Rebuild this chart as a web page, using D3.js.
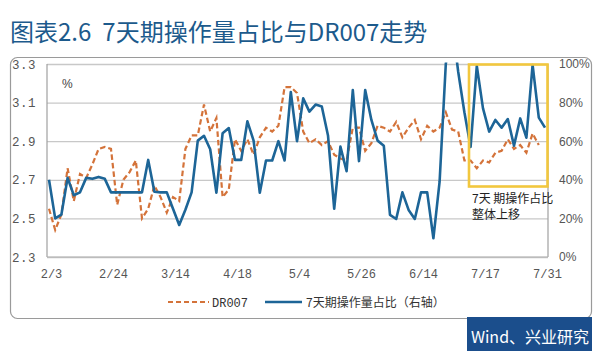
<!DOCTYPE html>
<html><head><meta charset="utf-8">
<script src="https://cdn.jsdelivr.net/npm/d3@7"></script>
<style>
html,body{margin:0;padding:0;background:#fff;}
svg{display:block;}
</style></head>
<body>
<svg id="chart" width="600" height="351"></svg>
<script>
// ---- data ----
const titleParts = ["图表2.6", "7天期操作量占比与DR007走势"];
const tickLabels = ["2/3","2/24","3/14","4/18","5/4","5/26","6/14","7/17","7/31"];
const tickIndex = [0,10,20,30,40,50,60,70,80];
const leftTicks = [2.3,2.5,2.7,2.9,3.1,3.3];
const rightTicks = [0,20,40,60,80,100];
// DR007 (%), left axis
const dr007 = [2.55,2.44,2.52,2.76,2.59,2.73,2.71,2.78,2.86,2.87,
  2.86,2.57,2.70,2.74,2.80,2.50,2.55,2.67,2.61,2.53,
  2.61,2.59,2.86,2.93,2.93,3.09,2.95,3.02,2.61,2.65,
  2.91,2.85,2.91,2.83,2.92,2.97,2.95,2.98,3.18,3.18,
  3.15,2.95,2.89,2.91,2.88,2.90,2.83,2.81,2.80,2.97,
  2.97,2.85,2.89,2.98,2.97,2.95,3.00,2.92,2.97,3.01,
  2.91,2.98,2.95,2.97,3.05,2.96,2.95,2.80,2.80,2.76,
  2.80,2.79,2.84,2.85,2.91,2.86,2.88,2.84,2.94,2.88];
// 7-day operation share (%), right axis
const share7d = [40,20,22,41,32,33.5,41,40.5,41.5,40.5,
  33.5,33.5,33.5,33.5,33.5,33.5,50.3,33.8,33.5,33.5,
  25,16.6,24.5,33.5,60.3,62.8,55.8,33.3,64.1,66.8,
  50.3,50.3,70.3,60.3,33.3,50,50,60,50,85.5,
  60,82.2,75.3,79,78,63,25,57.2,44.5,86.5,
  49.7,86.5,71,60.3,57.7,21.8,19.7,33.5,24.4,19.7,
  33.5,33.5,9.7,39,100,122,96,75,57,99,
  77,65,71,67,71.5,57.7,71.8,61.8,99.5,72.2,67];
const legendLabels = ["DR007","7天期操作量占比（右轴）"];
const noteLines = ["7天 期操作占比","整体上移"];
const source = "Wind、兴业研究";

// ---- drawing ----
const svg = d3.select("#chart");
const W = 600, H = 351;
const plot = {l:47, r:548, t:64, b:257};
const blue = "#1d6597", orange = "#d4733a", gridC = "#c8c8c8", txtC = "#555";

svg.append("rect").attr("width",W).attr("height",H).attr("fill","#fff");

// title
const tt = svg.append("text").attr("x",10).attr("y",41)
  .attr("font-family","'Noto Sans CJK SC','Noto Sans',sans-serif")
  .attr("font-size",24).attr("font-weight",400).attr("fill","#1c5a8c");
tt.append("tspan").text(titleParts[0]);
tt.append("tspan").attr("dx",11).text(titleParts[1]);

// frame
svg.append("rect").attr("x",10.5).attr("y",57.5).attr("width",581).attr("height",261)
  .attr("rx",7).attr("fill","none").attr("stroke","#9a9a9a").attr("stroke-width",1.2);

// source box
const sb = svg.append("g");
sb.append("path")
  .attr("d",`M467,317 H592 V352 Q592,358 586,358 H473 Q467,358 467,352 Z`)
  .attr("fill","#1b4e8c");
sb.append("text").attr("x",530).attr("y",343).attr("text-anchor","middle")
  .attr("font-family","'Noto Sans CJK SC',sans-serif").attr("font-size",16)
  .attr("fill","#fff").text(source);

const x = d3.scalePoint().domain(d3.range(share7d.length)).range([49,545]);
const yL = d3.scaleLinear().domain([2.3,3.3]).range([plot.b,plot.t]);
const yR = d3.scaleLinear().domain([0,100]).range([plot.b,plot.t]);

// gridlines
const grid = svg.append("g").attr("transform",`translate(${plot.l},0)`)
  .call(d3.axisLeft(yL).tickValues(leftTicks).tickSize(-(plot.r-plot.l)).tickFormat(""));
grid.select(".domain").remove();
grid.selectAll("line").attr("stroke",gridC).attr("stroke-width",1.3);

// axis lines
svg.append("line").attr("x1",plot.l).attr("x2",plot.l).attr("y1",plot.t).attr("y2",plot.b)
  .attr("stroke","#a0a0a0").attr("stroke-width",1.2);
svg.append("line").attr("x1",plot.r).attr("x2",plot.r).attr("y1",plot.t).attr("y2",plot.b)
  .attr("stroke","#a0a0a0").attr("stroke-width",1.2);
svg.append("line").attr("x1",plot.l).attr("x2",plot.r).attr("y1",plot.b).attr("y2",plot.b)
  .attr("stroke","#b0b0b0").attr("stroke-width",1.2);

// left axis labels
const la = svg.append("g").attr("transform",`translate(${plot.l-8},0)`)
  .call(d3.axisLeft(yL).tickValues(leftTicks).tickSize(0).tickFormat(d3.format(".1f")));
la.select(".domain").remove();
la.selectAll("text").attr("font-family","'Liberation Mono','DejaVu Sans Mono',monospace")
  .attr("font-size",12.5).attr("fill",txtC).attr("letter-spacing","0.5px");

// right axis labels
const ra = svg.append("g").attr("transform",`translate(${plot.r+8},0)`)
  .call(d3.axisRight(yR).tickValues(rightTicks).tickSize(0).tickFormat(d=>d+"%"));
ra.select(".domain").remove();
ra.selectAll("text").attr("font-family","'Liberation Sans','Arial',sans-serif")
  .attr("font-size",12).attr("fill",txtC);

// x axis labels
const xa = svg.append("g").attr("transform",`translate(2,${plot.b+8})`)
  .call(d3.axisBottom(x).tickValues(tickIndex).tickSize(0).tickFormat((d,i)=>tickLabels[i]));
xa.select(".domain").remove();
xa.selectAll("text").attr("font-family","'Liberation Mono','DejaVu Sans Mono',monospace")
  .attr("font-size",12).attr("fill",txtC).attr("dy","0.8em");

// % unit
svg.append("text").attr("x",62).attr("y",88).attr("font-family","'Liberation Sans',sans-serif")
  .attr("font-size",12).attr("fill","#444").text("%");

// clip
svg.append("clipPath").attr("id","clip").append("rect")
  .attr("x",plot.l).attr("y",plot.t-1.5).attr("width",plot.r-plot.l).attr("height",plot.b-plot.t+1.5);

const gLines = svg.append("g").attr("clip-path","url(#clip)");
gLines.append("path").datum(dr007)
  .attr("d",d3.line().x((d,i)=>x(i)).y(d=>yL(d)))
  .attr("fill","none").attr("stroke",orange).attr("stroke-width",2.2)
  .attr("stroke-dasharray","5.5,3");
gLines.append("path").datum(share7d)
  .attr("d",d3.line().x((d,i)=>x(i)).y(d=>yR(d)))
  .attr("fill","none").attr("stroke",blue).attr("stroke-width",2.6)
  .attr("stroke-linejoin","round");

// annotation box
svg.append("rect").attr("x",469).attr("y",64.5).attr("width",78.5).attr("height",122)
  .attr("fill","none").attr("stroke","#f2c73e").attr("stroke-width",2.6);
noteLines.forEach((t,i)=>{
  svg.append("text").attr("x",472).attr("y",203+i*16)
    .attr("font-family","'Noto Sans CJK SC',serif").attr("font-size",12)
    .attr("fill","#222").text(t);
});

// legend
const lg = svg.append("g");
lg.append("line").attr("x1",168).attr("x2",209).attr("y1",302).attr("y2",302)
  .attr("stroke",orange).attr("stroke-width",2.2).attr("stroke-dasharray","5,3");
lg.append("text").attr("x",212).attr("y",306.5).attr("font-family","'Liberation Mono',monospace")
  .attr("font-size",12).attr("fill","#333").text(legendLabels[0]);
lg.append("line").attr("x1",265).attr("x2",302).attr("y1",302).attr("y2",302)
  .attr("stroke",blue).attr("stroke-width",2.6);
lg.append("text").attr("x",306).attr("y",306.5).attr("font-family","'Noto Sans CJK SC',sans-serif")
  .attr("font-size",12).attr("fill","#333").text(legendLabels[1]);
</script>
</body></html>
